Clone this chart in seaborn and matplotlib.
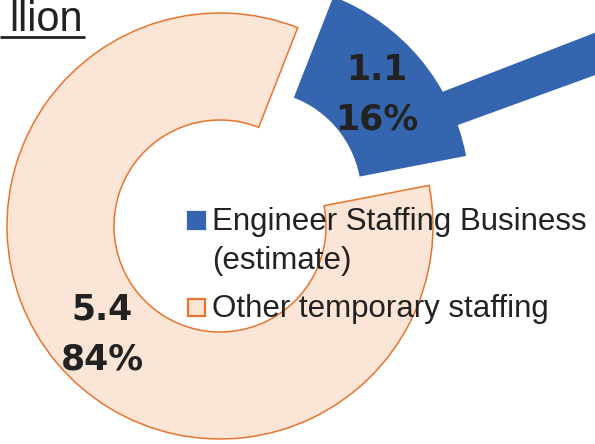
import matplotlib
matplotlib.use("Agg")
import matplotlib.pyplot as plt
from matplotlib.patches import Polygon, Rectangle
import numpy as np
import seaborn as sns

# ---- data ----
categories = ["Engineer Staffing Business\n(estimate)", "Other temporary staffing"]
values = [1.1, 5.4]          # JPY billion
shares = [16, 84]            # percent
share_labels = ["16%", "84%"]
title_fragment = "llion"

sns.set_theme(style="white")
plt.rcParams["font.family"] = ["Liberation Sans", "DejaVu Sans"]

palette = sns.color_palette(["#3565AE", "#FBE5D6"])
edge_colors = ["#3565AE", "#E8742E"]
text_dark = "#222222"

W, H = 595, 444
fig = plt.figure(figsize=(W / 100, H / 100), dpi=100)
ax = fig.add_axes([0, 0, 1, 1])

center = (220, H - 226)
radius = 213
ring_w = 107
explode_px = 47

wedges, _ = ax.pie(
    shares, radius=radius, center=center, startangle=11, counterclock=True,
    colors=palette, explode=[explode_px, 0],
    wedgeprops=dict(width=ring_w, linewidth=1.1),
)
for w, ec in zip(wedges, edge_colors):
    w.set_edgecolor(ec)

# callout arrow band from the exploded wedge
band = Polygon([(420, H - 100), (442, H - 92), (620, H - 23), (620, H - 66),
                (458, H - 125), (440, H - 132)],
               closed=True, facecolor=palette[0], edgecolor="none", zorder=1)
ax.add_patch(band)

# wedge labels (value + share)
label_pos = [(377, 70, 119), (102, 310, 359)]
for (x, y1, y2), v, s in zip(label_pos, values, share_labels):
    ax.text(x, H - y1, f"{v:.1f}", ha="center", va="center", fontsize=25,
            fontweight="bold", family="DejaVu Sans", color=text_dark, zorder=5)
    ax.text(x, H - y2, s, ha="center", va="center", fontsize=25,
            fontweight="bold", family="DejaVu Sans", color=text_dark, zorder=5)

# legend
for ytop, fc, ec in zip([212, 299], palette, edge_colors):
    ax.add_patch(Rectangle((188, H - ytop - 17), 17, 17, facecolor=fc,
                           edgecolor=ec, linewidth=1.6, zorder=4))
for ybase, cat in zip([269, 317], categories):
    ax.text(212, H - ybase, cat, ha="left", va="baseline", fontsize=22.5,
            color=text_dark, linespacing=1.37, zorder=4)

# cropped title fragment
ax.text(83, H - 31, title_fragment, ha="right", va="baseline", fontsize=30,
        color=text_dark, zorder=4)
ax.plot([0, 85], [H - 37.5, H - 37.5], color=text_dark, lw=2, solid_capstyle="butt")

ax.set_xlim(0, W)
ax.set_ylim(0, H)
ax.set_aspect("auto")
ax.axis("off")

fig.savefig("out.png", dpi=100)
